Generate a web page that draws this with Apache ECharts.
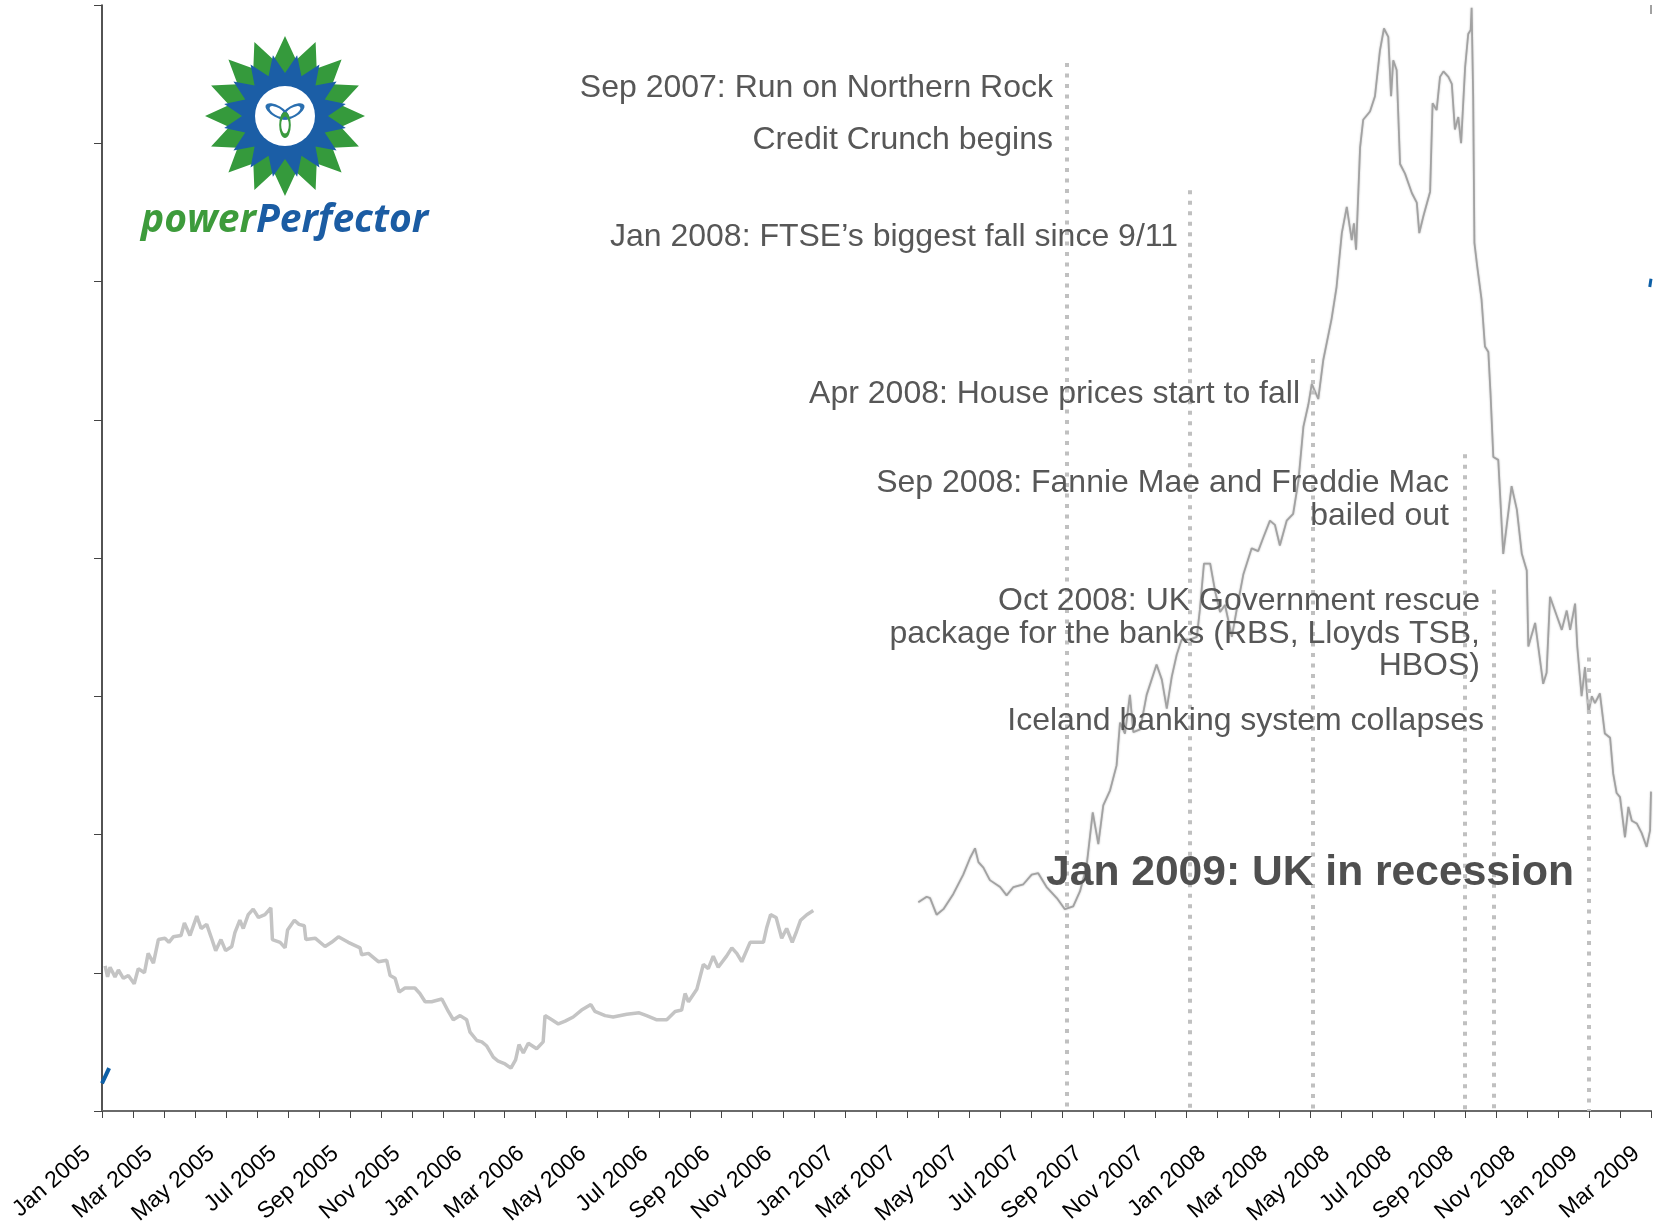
<!DOCTYPE html>
<html lang="en">
<head>
  <meta charset="UTF-8">
  <title>Price 2005 - 2009</title>
  <script src="https://cdn.jsdelivr.net/npm/echarts@6/dist/echarts.min.js"></script>
  <style>
    * {margin: 0; padding: 0;}
    html, body {width: 100%; height: 100%; overflow: hidden; background-color: #fff;}
    #chart {width: 1656px; height: 1224px;}
  </style>
</head>
<body>
  <div id="chart"></div>
<script>
// x = months since Jan 2005, y = index value (axis is unlabelled)
var tickLabels = ['Jan 2005', 'Mar 2005', 'May 2005', 'Jul 2005', 'Sep 2005', 'Nov 2005',
  'Jan 2006', 'Mar 2006', 'May 2006', 'Jul 2006', 'Sep 2006', 'Nov 2006',
  'Jan 2007', 'Mar 2007', 'May 2007', 'Jul 2007', 'Sep 2007', 'Nov 2007',
  'Jan 2008', 'Mar 2008', 'May 2008', 'Jul 2008', 'Sep 2008', 'Nov 2008',
  'Jan 2009', 'Mar 2009']

var price2005to2006 = [[0.10,1.05],[0.18,0.97],[0.26,1.04],[0.42,0.97],[0.53,1.02],[0.69,0.96],[0.85,0.98],[1.04,0.92],
  [1.17,1.03],[1.37,1.00],[1.49,1.14],[1.66,1.07],[1.82,1.24],[2.03,1.25],[2.16,1.22],[2.30,1.26],[2.55,1.27],
  [2.66,1.36],[2.84,1.27],[3.06,1.41],[3.20,1.32],[3.38,1.35],[3.52,1.26],[3.67,1.16],[3.84,1.24],[3.99,1.16],
  [4.19,1.19],[4.29,1.29],[4.45,1.38],[4.56,1.32],[4.72,1.42],[4.88,1.46],[5.05,1.40],[5.26,1.42],[5.45,1.47],
  [5.50,1.24],[5.75,1.22],[5.91,1.18],[5.99,1.31],[6.21,1.38],[6.36,1.35],[6.53,1.34],[6.58,1.24],[6.88,1.25],
  [7.20,1.19],[7.41,1.22],[7.63,1.26],[7.95,1.22],[8.33,1.18],[8.38,1.13],[8.60,1.14],[8.92,1.08],[9.19,1.09],
  [9.30,0.98],[9.46,0.96],[9.59,0.86],[9.78,0.89],[10.10,0.89],[10.26,0.85],[10.43,0.79],[10.64,0.79],[10.97,0.81],
  [11.18,0.72],[11.34,0.66],[11.56,0.69],[11.77,0.66],[11.88,0.57],[12.10,0.51],[12.26,0.50],[12.42,0.47],
  [12.63,0.39],[12.79,0.36],[13.01,0.34],[13.20,0.31],[13.35,0.37],[13.46,0.48],[13.60,0.42],[13.76,0.49],
  [14.03,0.45],[14.24,0.50],[14.30,0.69],[14.52,0.66],[14.73,0.63],[14.95,0.65],[15.21,0.68],[15.48,0.73],
  [15.78,0.77],[15.91,0.72],[16.24,0.69],[16.50,0.68],[16.94,0.70],[17.34,0.71],[17.58,0.69],[17.91,0.66],
  [18.23,0.66],[18.50,0.72],[18.71,0.73],[18.82,0.85],[18.93,0.79],[19.20,0.88],[19.41,1.06],[19.57,1.03],
  [19.73,1.12],[19.89,1.04],[20.16,1.12],[20.33,1.18],[20.49,1.14],[20.65,1.08],[20.92,1.22],[21.35,1.22],
  [21.46,1.33],[21.58,1.42],[21.76,1.40],[21.94,1.25],[22.10,1.32],[22.28,1.22],[22.42,1.30],[22.55,1.38],
  [22.75,1.42],[22.96,1.45]]

var price2007to2009 = [[26.35,1.51],[26.62,1.55],[26.73,1.54],[26.94,1.42],[27.16,1.46],[27.48,1.57],[27.80,1.71],
  [28.02,1.83],[28.18,1.90],[28.29,1.80],[28.45,1.76],[28.66,1.67],[28.99,1.62],[29.20,1.56],[29.42,1.62],
  [29.74,1.64],[30.01,1.71],[30.22,1.72],[30.49,1.62],[30.82,1.54],[31.08,1.46],[31.35,1.48],[31.57,1.59],
  [31.78,1.77],[31.98,2.16],[32.16,1.93],[32.32,2.21],[32.54,2.32],[32.75,2.50],[32.86,2.81],[33.02,2.73],
  [33.18,3.01],[33.29,2.74],[33.51,2.76],[33.72,3.01],[34.04,3.23],[34.21,3.12],[34.37,2.91],[34.53,3.14],
  [34.69,3.30],[34.85,3.41],[35.12,3.41],[35.34,3.43],[35.44,3.63],[35.57,3.96],[35.77,3.96],[35.93,3.76],
  [36.09,3.61],[36.25,3.66],[36.47,3.43],[36.63,3.63],[36.84,3.88],[37.11,4.07],[37.32,4.05],[37.49,4.15],
  [37.70,4.27],[37.86,4.24],[38.02,4.09],[38.24,4.27],[38.45,4.32],[38.62,4.56],[38.78,4.95],[38.94,5.11],
  [39.05,5.26],[39.26,5.15],[39.42,5.43],[39.69,5.73],[39.85,5.96],[40.02,6.35],[40.18,6.54],[40.34,6.30],
  [40.41,6.42],[40.48,6.23],[40.61,6.97],[40.71,7.17],[40.93,7.23],[41.09,7.34],[41.25,7.67],[41.38,7.83],
  [41.52,7.77],[41.61,7.34],[41.68,7.60],[41.79,7.53],[41.90,6.85],[42.06,6.78],[42.28,6.64],[42.44,6.57],
  [42.52,6.35],[42.65,6.47],[42.87,6.65],[42.95,7.29],[43.08,7.24],[43.19,7.48],[43.30,7.52],[43.46,7.48],
  [43.57,7.43],[43.67,7.10],[43.78,7.19],[43.87,7.00],[44.00,7.55],[44.10,7.79],[44.18,7.82],[44.21,7.98],
  [44.26,7.34],[44.30,6.28],[44.39,6.11],[44.53,5.87],[44.64,5.53],[44.75,5.49],[44.82,5.19],[44.91,4.73],
  [45.07,4.71],[45.23,4.03],[45.34,4.23],[45.50,4.52],[45.67,4.35],[45.83,4.03],[45.99,3.91],[46.04,3.36],
  [46.26,3.53],[46.36,3.36],[46.52,3.09],[46.63,3.17],[46.74,3.72],[46.96,3.58],[47.12,3.48],[47.28,3.62],
  [47.39,3.48],[47.55,3.67],[47.62,3.36],[47.76,3.00],[47.87,3.21],[47.98,2.88],[48.09,3.00],[48.19,2.95],
  [48.35,3.02],[48.51,2.73],[48.68,2.70],[48.78,2.44],[48.89,2.30],[49.00,2.27],[49.16,1.98],[49.27,2.20],
  [49.38,2.10],[49.54,2.08],[49.70,2.01],[49.86,1.91],[49.97,2.03],[50.00,2.31]]

// second (blue) series: only small bits fall inside the plot
var blueStart = [[0, 0.20], [0.23, 0.31]]
var blueEnd = [[49.96, 5.96], [50, 6.02]]

// dotted event lines: month position and height of the top end
var eventMonths = [31.15, 35.12, 39.09, 44.0, 44.93, 48.0]
var eventTops = [7.58, 6.66, 5.44, 4.75, 3.77, 3.28]

var notes = [
  {text: 'Sep 2007: Run on Northern Rock', x: 1053, y: 88},
  {text: 'Credit Crunch begins', x: 1053, y: 140},
  {text: 'Jan 2008: FTSE\u2019s biggest fall since 9/11', x: 1178, y: 237},
  {text: 'Apr 2008: House prices start to fall', x: 1300, y: 394},
  {text: 'Sep 2008: Fannie Mae and Freddie Mac', x: 1449, y: 483},
  {text: 'bailed out', x: 1449, y: 516},
  {text: 'Oct 2008: UK Government rescue', x: 1480, y: 601},
  {text: 'package for the banks (RBS, Lloyds TSB,', x: 1480, y: 634},
  {text: 'HBOS)', x: 1480, y: 666},
  {text: 'Iceland banking system collapses', x: 1484, y: 721}
]

var FONT = '"Liberation Sans", Arial, sans-serif'

function starPoints (cx, cy, rOut, rIn, n, rot) {
  var pts = []
  for (var i = 0; i < n * 2; i++) {
    var r = i % 2 === 0 ? rOut : rIn
    var a = rot + Math.PI * i / n - Math.PI / 2
    pts.push([cx + r * Math.cos(a), cy + r * Math.sin(a)])
  }
  return pts
}

function buildLogo () {
  var cx = 285, cy = 116
  var els = [
    {type: 'polygon', shape: {points: starPoints(cx, cy, 80, 57, 16, 0)}, style: {fill: '#359a3c'}},
    {type: 'polygon', shape: {points: starPoints(cx, cy, 62, 43, 16, Math.PI / 16)}, style: {fill: '#1b5ea6'}},
    {type: 'circle', shape: {cx: cx, cy: cy, r: 30}, style: {fill: '#fff'}}
  ]
  var lobes = [-150, -30, 90]
  lobes.forEach(function (deg, i) {
    var a = deg * Math.PI / 180
    els.push({
      type: 'circle',
      x: cx + 9 * Math.cos(a),
      y: cy + 9 * Math.sin(a),
      rotation: -a,
      scaleX: 1.35,
      scaleY: 0.6,
      shape: {cx: 0, cy: 0, r: 8},
      style: {fill: 'none', stroke: i === 2 ? '#3a9a3e' : '#2a6fb0', lineWidth: 3, strokeNoScale: true}
    })
  })
  els.push({
    type: 'text',
    x: 141, y: 221,
    style: {
      text: '{g|power}{b|Perfector}',
      verticalAlign: 'middle',
      rich: {
        g: {fill: '#3d9b3b', fontSize: 39, fontStyle: 'italic', fontWeight: 'bold', fontFamily: '"Open Sans", sans-serif'},
        b: {fill: '#1b5ca3', fontSize: 39, fontStyle: 'italic', fontWeight: 'bold', fontFamily: '"Open Sans", sans-serif'}
      }
    }
  })
  return els
}

function buildNotes () {
  var els = notes.map(function (n) {
    return {
      type: 'text', x: n.x, y: n.y, z: 100,
      style: {text: n.text, align: 'right', verticalAlign: 'middle', fill: '#575757', fontSize: 32, fontFamily: FONT}
    }
  })
  els.push({
    type: 'text', x: 1046, y: 873, z: 100,
    style: {text: 'Jan 2009: UK in recession', align: 'left', verticalAlign: 'middle', fill: '#4f4f4f',
      fontSize: 42.6, fontWeight: 'bold', fontFamily: FONT}
  })
  // small tick at the right end of the top frame
  els.push({type: 'line', shape: {x1: 1651, y1: 5, x2: 1651, y2: 14}, style: {stroke: '#444', lineWidth: 1}})
  return els
}

window.onload = function () {
  var chart = echarts.init(document.getElementById('chart'))
  var option = {
    animation: false,
    backgroundColor: '#fff',
    grid: {left: 102, right: 5, top: 5, bottom: 113, containLabel: false, outerBoundsMode: 'none'},
    xAxis: [{
      type: 'value', min: 0, max: 50, interval: 1,
      axisLine: {show: true, onZero: false, lineStyle: {color: '#1a1a1a', width: 1.5}},
      axisTick: {show: true, length: 7, lineStyle: {color: '#444'}},
      splitLine: {show: false},
      axisLabel: {
        rotate: 41, fontSize: 23, color: '#000', fontFamily: FONT, margin: 27,
        showMinLabel: true, showMaxLabel: true,
        formatter: function (v) {
          var i = Math.round(v)
          // trailing spaces pull the text end a little left of its tick, as in the original
          return i % 2 === 0 ? tickLabels[i / 2] + '   ' : ''
        }
      }
    }, {
      type: 'value', position: 'top', min: 0, max: 50,
      axisLine: {show: true, lineStyle: {color: '#6a6a6a', width: 2}},
      axisTick: {show: false}, axisLabel: {show: false}, splitLine: {show: false}
    }],
    yAxis: {
      type: 'value', min: 0, max: 8, interval: 1,
      axisLine: {show: true, lineStyle: {color: '#1a1a1a', width: 1.5}},
      axisTick: {show: true, length: 8, lineStyle: {color: '#444'}},
      axisLabel: {show: false},
      splitLine: {show: false}
    },
    series: [
      {
        name: 'price 2005-2006', type: 'line', data: price2005to2006, showSymbol: false,
        lineStyle: {color: '#c4c4c4', width: 3.5}
      },
      {
        name: 'price 2007-2009', type: 'line', data: price2007to2009, showSymbol: false,
        lineStyle: {color: '#a2a2a2', width: 1.8, shadowColor: 'rgba(0,0,0,0.25)', shadowBlur: 2}
      },
      {
        name: 'blue start', type: 'line', data: blueStart, showSymbol: false,
        lineStyle: {color: '#0d5fa6', width: 4}
      },
      {
        name: 'blue end', type: 'line', data: blueEnd, showSymbol: false,
        lineStyle: {color: '#0d5fa6', width: 3}
      },
      {
        name: 'events', type: 'line', data: [],
        markLine: {
          symbol: 'none', silent: true, label: {show: false},
          lineStyle: {color: '#c0c0c0', width: 4, type: [4, 6.5]},
          data: eventMonths.map(function (m, i) {
            return [{coord: [m, eventTops[i]]}, {coord: [m, 0]}]
          })
        }
      }
    ],
    graphic: buildLogo().concat(buildNotes())
  }
  chart.setOption(option)
}
</script>
</body>
</html>
